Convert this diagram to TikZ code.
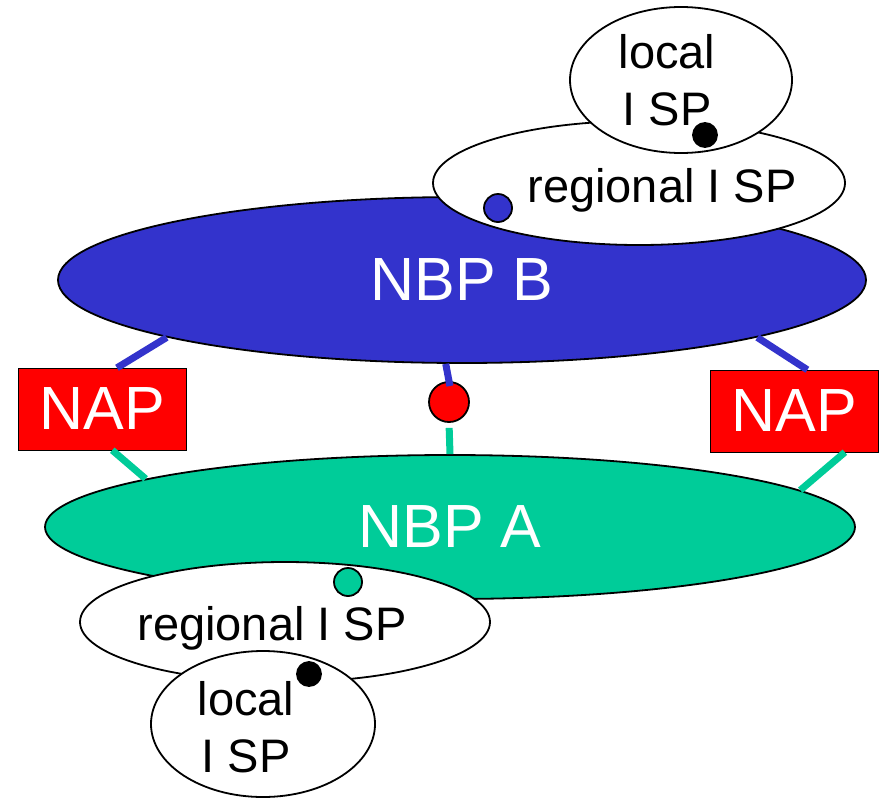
\documentclass[tikz,border=0pt]{standalone}
\usepackage{fontspec}
\setmainfont{Liberation Sans}
\usepackage{xcolor}
\usetikzlibrary{shapes.geometric}
\definecolor{nbpblue}{RGB}{51,51,204}
\definecolor{nbpgreen}{RGB}{0,204,153}

\begin{document}
\begin{tikzpicture}[x=1pt,y=-1pt,
    net/.style={ellipse, draw, line width=1.8pt, inner sep=0pt},
    isp/.style={net, fill=white},
    nbp/.style={net, text=white, font=\fontsize{61}{61}\selectfont},
    nap/.style={rectangle, draw=black, fill=red, text=white, minimum width=168pt,
                minimum height=82pt, inner sep=0pt, font=\fontsize{61}{61}\selectfont},
    hop/.style={circle, draw, line width=1.8pt, inner sep=0pt, minimum size=#1},
    lbl/.style={font=\fontsize{47}{57}\selectfont, align=center, inner sep=0pt},
    link/.style={line width=7pt}]
    \useasboundingbox (0,0) rectangle (882,798);

    % backbone B with its regional and local ISP
    \node[nbp, fill=nbpblue, minimum width=808pt, minimum height=166pt] (nbpB) at (462,280) {NBP B};
    \node[isp, minimum width=412pt, minimum height=124pt] (regB) at (639,183) {};
    \node[isp, minimum width=222pt, minimum height=146pt] (locB) at (681,80) {};
    \node[lbl, anchor=base] (regBtxt) at (662,202) {regional I SP};
    \node[lbl] (locBtxt) at (667,80) {local\\I SP};
    \node[hop=28pt, fill=nbpblue] (dotB) at (498,208) {};
    \node[hop=24pt, fill=black] (dotlocB) at (705,135) {};

    % backbone A with its regional and local ISP
    \node[nbp, fill=nbpgreen, minimum width=810pt, minimum height=144pt] (nbpA) at (450,527) {NBP A};
    \node[isp, minimum width=410pt, minimum height=120pt] (regA) at (285,622) {};
    \node[isp, minimum width=224pt, minimum height=146pt] (locA) at (263,724) {};
    \node[lbl, anchor=base] (regAtxt) at (272,640) {regional I SP};
    \node[lbl] (locAtxt) at (246,727) {local\\I SP};
    \node[hop=28pt, fill=nbpgreen] (dotA) at (348,582) {};
    \node[hop=24pt, fill=black] (dotlocA) at (309,674) {};

    % access points
    \node[nap] (napL) at (102,409) {NAP};
    \node[nap] (napR) at (794,411) {NAP};
    \node[hop=40pt, fill=red] (peer) at (449,402) {};

    \draw[link, nbpblue] (nbpB.191) -- (napL.70);
    \draw[link, nbpblue] (nbpB.-11) -- (napR.72);
    \draw[link, nbpblue, shorten >=-5pt] (nbpB.259) -- (peer.north);
    \draw[link, nbpgreen] (napL.-76) -- (nbpA.171);
    \draw[link, nbpgreen] (napR.-39) -- (nbpA.6);
    \draw[link, nbpgreen, shorten <=5pt] (peer.south) -- (nbpA.north);
\end{tikzpicture}
\end{document}
